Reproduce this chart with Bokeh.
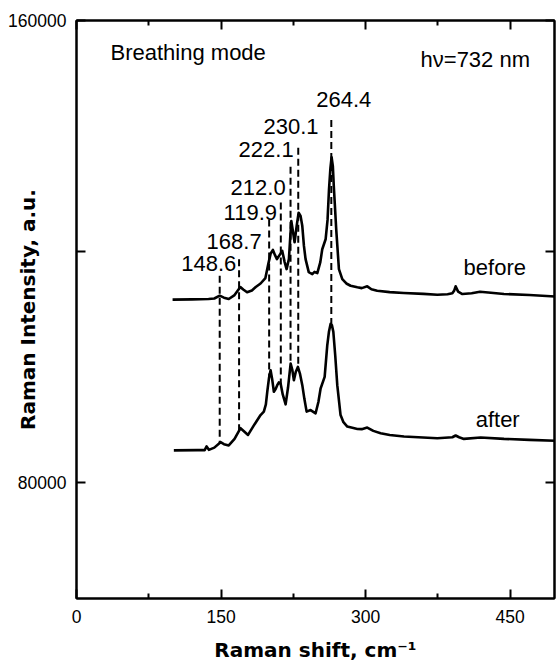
import numpy as np
from bokeh.plotting import figure
from bokeh.models import Range1d, LinearAxis, FixedTicker, Label, ColumnDataSource
from bokeh.core.properties import value
from bokeh.embed import file_html
from bokeh.resources import INLINE

# ---- data ----
before_x = [99.7, 120, 137, 143, 148.6, 153, 158, 164, 170, 173, 177, 182, 186, 191, 196,
            199, 201.5, 203.8, 206, 208, 211, 213.5, 216, 218, 220.4, 221.8, 222.9, 224.6,
            226.3, 228.5, 230.5, 232.5, 234.3, 236, 237.7, 241, 244.7, 247, 249.9, 253, 255,
            258.5, 260.5, 262, 263.5, 264.7, 266, 267, 269.5, 272.3, 275.8, 280, 284.4, 291.4,
            296, 301.7, 306, 312, 325, 339.6, 360, 374.4, 385, 390, 392, 393.4, 396, 400.4,
            410, 418.7, 430, 443.6, 470, 499]
before_y = [111700, 111760, 111820, 111900, 112390, 112050, 111820, 112500, 113890, 113450,
            112980, 113300, 113890, 114500, 115440, 117850, 119700, 120300, 119400, 118710,
            119500, 120130, 118200, 116990, 118710, 122500, 125300, 123500, 121630, 124500,
            126740, 126200, 124440, 121000, 118710, 116470, 116120, 116500, 116300, 118200,
            120430, 122150, 125500, 130750, 134500, 136340, 134800, 131320, 123870, 116990,
            115260, 114500, 114110, 113840, 113700, 114010, 113500, 113250, 113000, 112860,
            112700, 112560, 112650, 112800, 113300, 114010, 113100, 112680, 112800, 113080,
            112900, 112680, 112500, 112220]

after_x = [101, 125.3, 133, 135, 137.4, 143, 149.5, 153, 158, 164, 170.2, 174, 178, 185,
           191, 194.4, 196.5, 198, 199.8, 201.4, 203, 204.8, 206.5, 208.3, 210, 211.8, 214,
           217, 219.5, 222.2, 224, 225.6, 227.5, 229.7, 232, 234.3, 236.5, 238.8, 242.9,
           248.1, 251, 253.3, 257.5, 260.2, 262, 263.7, 265, 266.5, 268.5, 270.6, 274, 277,
           281, 291.4, 296, 301.7, 308, 315.6, 325, 339.8, 374.4, 390, 393.4, 397, 402,
           419.4, 443.6, 470, 499]
after_y = [85620, 85670, 85670, 86310, 85720, 86100, 87050, 86700, 86480, 87600, 89460,
           88900, 88300, 90200, 91740, 92330, 93600, 95820, 98200, 99490, 98000, 95770,
           96200, 96910, 97400, 97200, 95300, 93590, 96500, 100640, 99500, 97770, 99200,
           100070, 98800, 96910, 94500, 92330, 92600, 92040, 94000, 96340, 98350, 103790,
           106200, 107520, 107300, 106150, 102000, 96910, 91740, 90500, 89750, 89330, 89300,
           89580, 89000, 88600, 88300, 88030, 87730, 87900, 88200, 87900, 87610, 87850, 87610,
           87450, 87270]

peak_x = [148.6, 168.7, 199.9, 212.0, 222.1, 230.1, 264.4]
peak_labels = ["148.6", "168.7", "119.9", "212.0", "222.1", "230.1", "264.4"]

x_ticks = [0, 150, 300, 450]
x_minor = [75, 225, 375]
y_ticks = [80000, 120000, 160000]
y_tick_labels = {80000: "80000", 120000: "", 160000: "160000"}

# ---- layout of annotations ----
label_x = [108.7, 135.0, 152.6, 159.9, 168.2, 194.1, 248.8]
label_y = [118020, 121850, 126840, 131090, 137630, 141640, 146410]
line_top = [115830, 118710, 125590, 128510, 134710, 137980, 142790]

FONT = "Liberation Sans"
TXT = "22px"

p = figure(width=557, height=664, output_backend="svg", toolbar_location=None,
           x_range=Range1d(0, 496), y_range=Range1d(60000, 160000),
           min_border_left=76, min_border_top=20, min_border_right=3, min_border_bottom=63)
p.xgrid.visible = False
p.ygrid.visible = False
p.background_fill_color = "white"
p.border_fill_color = "white"
p.outline_line_color = "black"
p.outline_line_width = 2
p.outline_line_alpha = 1


def style_axis(ax, labels=True):
    ax.axis_line_width = 2
    ax.axis_line_color = "black"
    ax.major_tick_in = 9
    ax.major_tick_out = 0
    ax.minor_tick_in = 5
    ax.minor_tick_out = 0
    ax.major_tick_line_width = 2
    ax.minor_tick_line_width = 2
    ax.major_tick_line_color = "black"
    ax.minor_tick_line_color = "black"
    if labels:
        ax.major_label_text_font = FONT
        ax.major_label_text_font_size = "17.5px"
        ax.major_label_text_color = "black"
    else:
        ax.major_label_text_font_size = "1px"
        ax.major_label_text_color = None
        ax.major_label_standoff = 0


p.xaxis.ticker = FixedTicker(ticks=x_ticks, minor_ticks=x_minor)
p.yaxis.ticker = FixedTicker(ticks=y_ticks, minor_ticks=[])
style_axis(p.xaxis[0])
style_axis(p.yaxis[0])
p.xaxis.major_label_standoff = 11
p.yaxis.major_label_standoff = 10
p.yaxis.major_label_overrides = y_tick_labels

for ax, lab, so in [(p.xaxis[0], "Raman shift, cm\u207b\u00b9", 12),
                    (p.yaxis[0], "Raman Intensity, a.u.", -35)]:
    ax.axis_label = lab
    ax.axis_label_text_font = "DejaVu Sans"
    ax.axis_label_text_font_style = "bold"
    ax.axis_label_text_font_size = "20px"
    ax.axis_label_text_color = "black"
    ax.axis_label_standoff = so

top = LinearAxis(ticker=FixedTicker(ticks=x_ticks, minor_ticks=x_minor))
style_axis(top, labels=False)
p.add_layout(top, "above")
right = LinearAxis(ticker=FixedTicker(ticks=y_ticks, minor_ticks=[]))
style_axis(right, labels=False)
p.add_layout(right, "right")

# spectra
p.line(before_x, before_y, line_color="black", line_width=2.6, line_join="round")
p.line(after_x, after_y, line_color="black", line_width=2.6, line_join="round")

# dashed peak markers, from under each label down to the "after" spectrum
line_bottom = list(np.interp(peak_x, after_x, after_y))
p.segment(x0=peak_x, y0=line_top, x1=peak_x, y1=line_bottom,
          line_color="black", line_width=2, line_dash="7 4")

src = ColumnDataSource(dict(x=label_x, y=label_y, t=peak_labels))
p.text(x="x", y="y", text="t", source=src, text_font=value(FONT),
       text_font_size=TXT, text_align="left", text_baseline="middle", text_color="black")

for txt, x, y in [("Breathing mode", 35.3, 154500), ("h\u03bd=732 nm", 357, 153290),
                  ("before", 401.7, 117280), ("after", 414.2, 91000)]:
    p.add_layout(Label(x=x, y=y, text=txt, text_font=FONT, text_font_size=TXT,
                       text_align="left", text_baseline="middle", text_color="black"))

open("out.html", "w").write(file_html(p, INLINE))
